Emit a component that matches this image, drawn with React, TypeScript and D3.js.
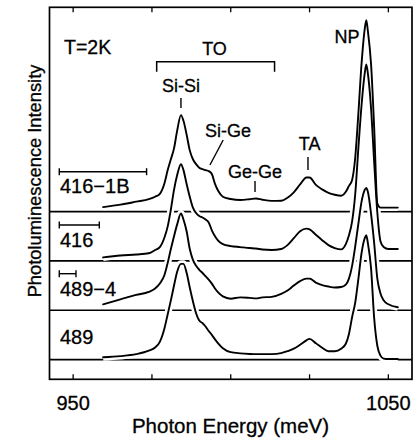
import React from "react";
import * as d3 from "d3";

// Photon energy grid (meV)
const energy = [
  959.5, 965, 970, 974, 976, 977.5, 979, 980, 981, 982,
  983, 984.2, 985, 986, 987, 988, 989, 990, 991, 992,
  993, 994, 995, 996, 997.5, 1000, 1003, 1006, 1008, 1010,
  1013, 1016, 1018, 1020, 1022, 1024, 1025, 1027, 1029, 1031,
  1033, 1035, 1036.5, 1037.5, 1038.5, 1039.5, 1040.5, 1041.5, 1042.5, 1043,
  1043.5, 1044.5, 1045.5, 1046.5, 1047.5, 1048.5, 1050, 1053,
];

// PL intensity (arb. units) above each baseline
const pl416_1B = [
  4.5, 7, 10, 12.5, 15, 18, 29, 42, 53, 64,
  82, 97.7, 92, 78, 62, 53, 48, 44.5, 43, 42,
  41, 38, 28, 21, 15, 12.7, 11.7, 12.5, 13.3, 12,
  10.8, 11, 14, 19.5, 27.5, 34.5, 34.5, 27, 22.5, 19,
  17, 16, 20, 26, 32, 55, 100, 150, 185, 194,
  183, 150, 85, 8, 4, 4, 4, 4,
];
const pl416 = [
  3.5, 5.5, 6.5, 7.7, 11, 14, 24, 35, 52, 72,
  87, 98, 92, 78, 65, 54, 48.5, 45.5, 44, 42,
  39, 31, 25, 20.5, 17, 15, 14, 13, 12.5, 11.5,
  11, 12, 16, 23, 30, 32.7, 32, 26.5, 21, 16,
  13, 11.7, 17, 26, 40, 68, 115, 158, 190, 199,
  190, 155, 100, 49, 20, 14, 12, 12,
];
const pl489_4 = [
  6, 11, 15.5, 18.5, 22, 27, 36, 48, 62, 75,
  87, 98, 92, 80, 62, 51, 45, 41, 38, 34.5,
  31, 27, 22, 18, 14, 11.7, 13, 12.5, 12, 13,
  13.5, 16.5, 20, 25, 29.5, 32, 32, 28, 25.5, 24,
  23, 23.5, 26, 32, 45, 65, 88, 110, 122, 124,
  120, 98, 68, 32, 17, 10, 6, 3,
];
const pl489 = [
  2.3, 3.5, 5.5, 9, 12.3, 18, 32, 46, 60, 75,
  89, 97, 97, 88, 73, 59, 47, 39.5, 37, 33.5,
  29, 25, 20.5, 16.5, 11.5, 7.5, 6.3, 5.7, 5.5, 5.5,
  5.5, 6.5, 8.5, 11, 15, 19.5, 21, 16.5, 12, 8.5,
  8.5, 11, 16, 26, 43, 58, 82, 108, 123, 126,
  118, 93, 42, 14, 4, 1, 0.5, 0.5,
];

const sampleNames = ["416−1B", "416", "489−4", "489"];
const sampleSeries = [pl416_1B, pl416, pl489_4, pl489];
const sampleOffsets = [150, 100, 50, 0];
const sampleBarWidths = [27.7, 12.7, 5.3, 0]; // meV

const energyTicks = [950, 975, 1000, 1025, 1050];
const labeledTicks = [950, 1050];

const FONT = "'Liberation Sans', Arial, Helvetica, sans-serif";

export default function App() {
  const W = 416;
  const H = 442;
  const L = 49.5, R = 412, T = 7.3, B = 379.3;
  const x = d3.scaleLinear().domain([942.5, 1057.5]).range([L, R]);
  const y = d3.scaleLinear().domain([-20, 357]).range([B, T]);

  const line = d3
    .line<[number, number]>()
    .x((d) => x(d[0]))
    .y((d) => y(d[1]))
    .curve(d3.curveMonotoneX);

  const paths = sampleSeries.map((vals, i) =>
    line(energy.map((e, j) => [e, vals[j] + sampleOffsets[i]] as [number, number])) || ""
  );

  const labelBaselines = [192.7, 247, 296, 344.3];
  const barYs = [171.7, 225, 273.7, 0];
  const barStart = 945.6;
  const txt = { stroke: "#000", strokeWidth: 0.3 };

  return (
    <svg
      width={W}
      height={H}
      style={{ position: "absolute", left: 0, top: 0, background: "#fff" }}
      fontFamily={FONT}
    >
      <rect x={0} y={0} width={W} height={H} fill="#fff" />
      {/* baselines */}
      {sampleOffsets.map((o, i) => (
        <line key={"b" + i} x1={L} x2={R} y1={y(o)} y2={y(o)} stroke="#000" strokeWidth={1.7} />
      ))}
      {/* white halos */}
      {paths.map((p, i) => (
        <path key={"h" + i} d={p} fill="none" stroke="#fff" strokeWidth={7} strokeLinejoin="round" />
      ))}
      {/* spectra */}
      {paths.map((p, i) => (
        <path key={"p" + i} d={p} fill="none" stroke="#000" strokeWidth={1.9} strokeLinejoin="round" strokeLinecap="round" />
      ))}
      {/* frame */}
      <rect x={L} y={T} width={R - L} height={B - T} fill="none" stroke="#000" strokeWidth={1.7} />
      {/* ticks */}
      {energyTicks.map((t) => (
        <g key={"t" + t}>
          <line x1={x(t)} x2={x(t)} y1={B} y2={B - 5} stroke="#000" strokeWidth={1.3} />
          <line x1={x(t)} x2={x(t)} y1={T} y2={T + 5} stroke="#000" strokeWidth={1.3} />
        </g>
      ))}
      {labeledTicks.map((t) => (
        <text key={"tl" + t} x={x(t)} y={410} fontSize={20} textAnchor="middle" {...txt}>
          {t}
        </text>
      ))}
      <text x={230.5} y={433} fontSize={20.5} textAnchor="middle" {...txt}>
        Photon Energy (meV)
      </text>
      <text transform="translate(41,181) rotate(-90)" fontSize={18.3} textAnchor="middle" {...txt}>
        Photoluminescence Intensity
      </text>

      {/* sample labels and bars */}
      {sampleNames.map((n, i) => (
        <g key={"s" + i}>
          <text x={60} y={labelBaselines[i]} fontSize={20} {...txt}>
            {n}
          </text>
          {sampleBarWidths[i] > 0 && (
            <g stroke="#000" strokeWidth={1.4}>
              <line x1={x(barStart)} x2={x(barStart + sampleBarWidths[i])} y1={barYs[i]} y2={barYs[i]} />
              <line x1={x(barStart)} x2={x(barStart)} y1={barYs[i] - 3.5} y2={barYs[i] + 3.5} />
              <line
                x1={x(barStart + sampleBarWidths[i])}
                x2={x(barStart + sampleBarWidths[i])}
                y1={barYs[i] - 3.5}
                y2={barYs[i] + 3.5}
              />
            </g>
          )}
        </g>
      ))}

      {/* annotations */}
      <text x={64} y={54} fontSize={19.5} {...txt}>T=2K</text>
      <text x={214.5} y={55} fontSize={18} textAnchor="middle" {...txt}>TO</text>
      <path
        d={`M${x(976.5)},71.7 V61.7 H${x(1013.9)} V71.7`}
        fill="none"
        stroke="#000"
        strokeWidth={1.5}
      />
      <text x={x(984.2)} y={92} fontSize={18} textAnchor="middle" {...txt}>Si-Si</text>
      <line x1={x(984.2)} x2={x(984.2)} y1={98} y2={108} stroke="#000" strokeWidth={1.4} />
      <text x={228} y={137} fontSize={18} textAnchor="middle" {...txt}>Si-Ge</text>
      <line x1={x(997.6)} x2={x(993.4)} y1={140} y2={165} stroke="#000" strokeWidth={1.4} />
      <text x={255} y={178} fontSize={18} textAnchor="middle" {...txt}>Ge-Ge</text>
      <line x1={x(1007.7)} x2={x(1007.7)} y1={181} y2={192} stroke="#000" strokeWidth={1.4} />
      <text x={309.7} y={150} fontSize={18} textAnchor="middle" {...txt}>TA</text>
      <line x1={x(1024.5)} x2={x(1024.5)} y1={157} y2={170} stroke="#000" strokeWidth={1.4} />
      <text x={347} y={43} fontSize={18} textAnchor="middle" {...txt}>NP</text>
    </svg>
  );
}
